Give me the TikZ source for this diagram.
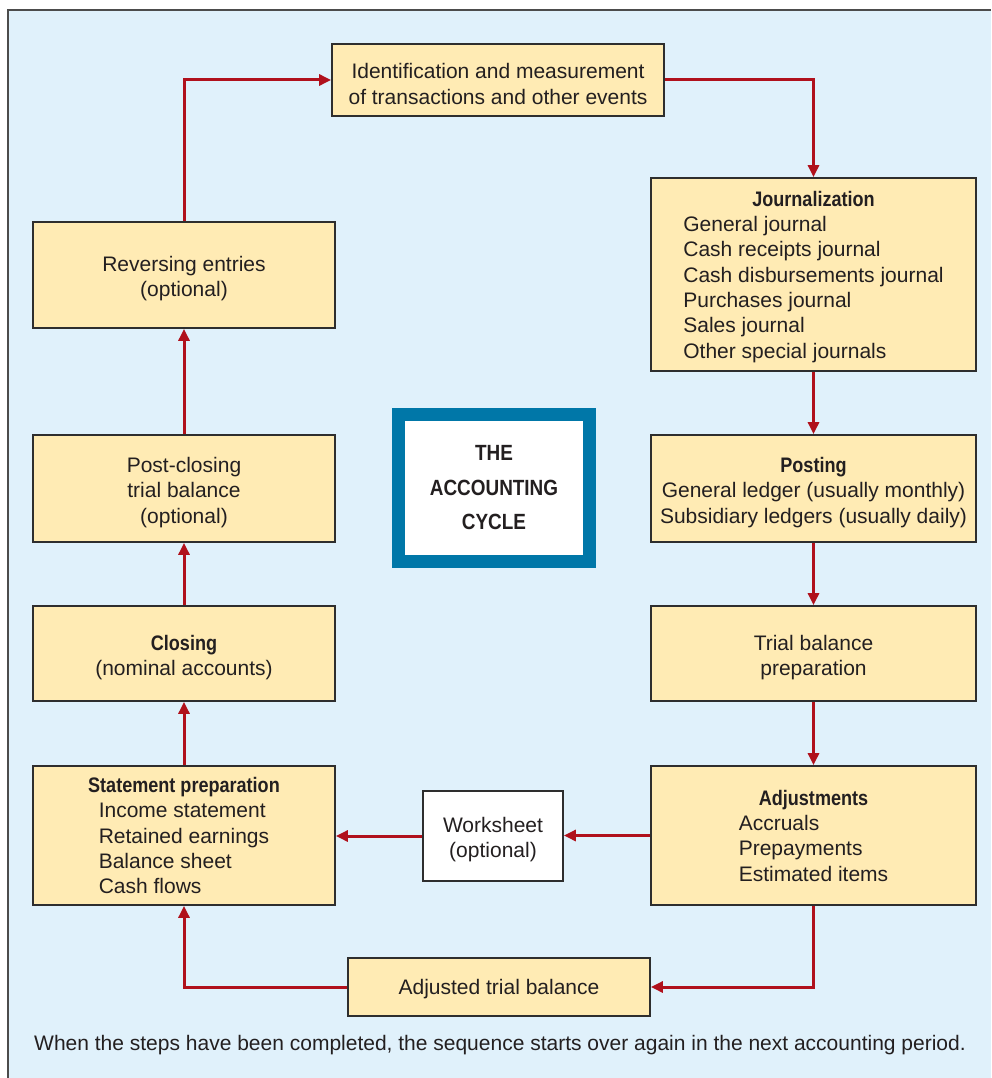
\documentclass[tikz,border=0pt]{standalone}
\usepackage{fontspec}
\setmainfont{Liberation Sans}
\newfontfamily\hd{Liberation Sans}[FakeStretch=0.86]
\usetikzlibrary{arrows.meta}
\definecolor{bg}{HTML}{E0F1FB}
\definecolor{boxfill}{HTML}{FFEBB4}
\definecolor{boxline}{HTML}{2E2E2E}
\definecolor{arr}{HTML}{B0111C}
\definecolor{frameblue}{HTML}{0077A8}
\definecolor{txt}{HTML}{231F20}
\newcommand{\hdtxt}[1]{{\hd\bfseries #1}}
\newcommand{\fs}{\rule{0pt}{23pt}}
\begin{document}
\begin{tikzpicture}[x=1pt,y=-1pt,
  stepbox/.style={draw=boxline, line width=1.8pt, fill=boxfill, align=center, inner sep=0pt,
    font=\fontsize{21}{25.3}\selectfont, text=txt},
  flow/.style={draw=arr, line width=3pt, -{Triangle[length=12pt,width=11pt]}},
]
\useasboundingbox (0,0) rectangle (991,1078);
\fill[bg] (8,10) rectangle (991,1078);
\draw[black!70, line width=1.5pt] (8,1078) -- (8,10) -- (991,10);

\node[stepbox, minimum width=332pt, minimum height=72pt] (ident) at (498,80)
  {\fs Identification and measurement\\of transactions and other events};
\node[stepbox, minimum width=325pt, minimum height=193pt] (journ) at (813.5,274.5)
  {\fs\hdtxt{Journalization}\\\begin{tabular}[t]{@{}l@{}}General journal\\Cash receipts journal\\Cash disbursements journal\\Purchases journal\\Sales journal\\Other special journals\end{tabular}};
\node[stepbox, minimum width=325pt, minimum height=107pt] (post) at (813.5,488.5)
  {\fs\hdtxt{Posting}\\General ledger (usually monthly)\\Subsidiary ledgers (usually daily)};
\node[stepbox, minimum width=325pt, minimum height=95pt] (trial) at (813.5,653.5)
  {\fs Trial balance\\preparation};
\node[stepbox, minimum width=325pt, minimum height=139pt] (adj) at (813.5,835.5)
  {\fs\hdtxt{Adjustments}\\\begin{tabular}[t]{@{}l@{}}Accruals\\Prepayments\\Estimated items\end{tabular}};
\node[stepbox, minimum width=302pt, minimum height=58pt] (adjtb) at (499,987)
  {\rule{0pt}{19pt}Adjusted trial balance};
\node[stepbox, fill=white, minimum width=140pt, minimum height=90pt] (work) at (493,836)
  {\fs Worksheet\\(optional)};
\node[stepbox, minimum width=302pt, minimum height=139pt] (stmt) at (184,835.5)
  {\fs\hdtxt{Statement preparation}\\\begin{tabular}[t]{@{}l@{}}Income statement\\Retained earnings\\Balance sheet\\Cash flows\end{tabular}};
\node[stepbox, minimum width=302pt, minimum height=95pt] (closing) at (184,653.5)
  {\fs\hdtxt{Closing}\\(nominal accounts)};
\node[stepbox, minimum width=302pt, minimum height=107pt] (postcl) at (184,488.5)
  {\fs Post-closing\\trial balance\\(optional)};
\node[stepbox, minimum width=302pt, minimum height=106pt] (rev) at (184,275)
  {\fs Reversing entries\\(optional)};

\node[draw=frameblue, line width=13pt, fill=white, minimum width=191pt, minimum height=147pt,
  align=center, inner sep=0pt, text=txt, font=\hd\bfseries\fontsize{22}{34.5}\selectfont] (title) at (494,488)
  {THE\\ACCOUNTING\\CYCLE};

\node[font=\fontsize{21}{24}\selectfont, text=txt, inner sep=0pt] (foot) at (500,1045)
  {When the steps have been completed, the sequence starts over again in the next accounting period.};

\draw[flow] (rev.north) |- (ident.west);
\draw[flow] (ident.east) -| (journ.north);
\draw[flow] (journ) -- (post);
\draw[flow] (post) -- (trial);
\draw[flow] (trial) -- (adj);
\draw[flow] (adj.south) |- (adjtb.east);
\draw[flow] (adjtb.west) -| (stmt.south);
\draw[flow] (adj.west) -- (adj.west -| work.east);
\draw[flow] (work.west) -- (work.west -| stmt.east);
\draw[flow] (stmt) -- (closing);
\draw[flow] (closing) -- (postcl);
\draw[flow] (postcl) -- (rev);
\end{tikzpicture}
\end{document}
